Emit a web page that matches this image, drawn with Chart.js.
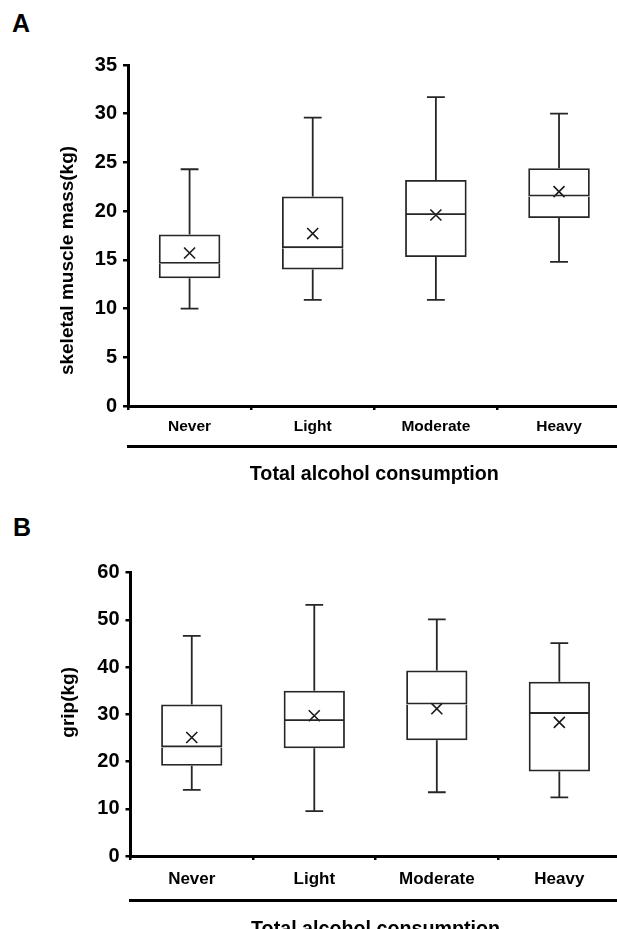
<!DOCTYPE html>
<html>
<head>
<meta charset="utf-8">
<script src="https://cdn.jsdelivr.net/npm/chart.js@4.4.1/dist/chart.umd.min.js"></script>
<style>
html,body{margin:0;padding:0;background:#fff;overflow:hidden;}
#wrap{position:relative;width:617px;height:929px;overflow:hidden;background:#fff;}
canvas{position:absolute;left:0;}
.lbl{position:absolute;font:bold 25px "Liberation Sans",Arial,sans-serif;line-height:25px;color:#000;}
</style>
</head>
<body>
<div id="wrap">
  <div class="lbl" style="left:12px;top:11px">A</div>
  <div class="lbl" style="left:13px;top:515px">B</div>
  <canvas id="cA" width="630" height="486" style="top:0px"></canvas>
  <canvas id="cB" width="630" height="441" style="top:500px"></canvas>
</div>
<script>
// ---------------- data ----------------
const categories = ['Never', 'Light', 'Moderate', 'Heavy'];
const xTitle = 'Total alcohol consumption';

// Panel A: skeletal muscle mass (kg)
const smmTitle  = 'skeletal muscle mass(kg)';
const smmTicks  = [0, 5, 10, 15, 20, 25, 30, 35];
const smmMin    = [10.0, 10.9, 10.9, 14.8];
const smmQ1     = [13.1, 14.0, 15.3, 19.3];
const smmMedian = [14.6, 16.2, 19.6, 21.5];
const smmQ3     = [17.6, 21.5, 23.2, 24.4];
const smmMax    = [24.3, 29.6, 31.7, 30.0];
const smmMean   = [15.7, 17.7, 19.6, 22.0];

// Panel B: grip (kg)
const gripTitle  = 'grip(kg)';
const gripTicks  = [0, 10, 20, 30, 40, 50, 60];
const gripMin    = [14.0, 9.5, 13.5, 12.4];
const gripQ1     = [19.1, 22.8, 24.5, 17.9];
const gripMedian = [23.0, 28.6, 32.1, 30.1];
const gripQ3     = [32.1, 35.0, 39.3, 36.9];
const gripMax    = [46.6, 53.2, 50.1, 45.1];
const gripMean   = [25.1, 29.7, 31.2, 28.3];

// ---------------- styling ----------------
const FONT = '"Liberation Sans", Arial, Helvetica, sans-serif';
const BOX_COLOR = '#262626';
const BOX_LW = 1.8;

function whiskerPlugin(mins, q1s, q3s, maxs) {
  return {
    id: 'whiskers',
    beforeDatasetsDraw(chart) {
      const ctx = chart.ctx, xs = chart.scales.x, ys = chart.scales.y;
      const catW = xs.getPixelForValue(1) - xs.getPixelForValue(0);
      const cap = catW * 0.145;
      ctx.save();
      ctx.strokeStyle = BOX_COLOR;
      ctx.lineWidth = BOX_LW;
      mins.forEach((_, i) => {
        const x = xs.getPixelForValue(i);
        const pMin = ys.getPixelForValue(mins[i]);
        const pQ1 = ys.getPixelForValue(q1s[i]);
        const pQ3 = ys.getPixelForValue(q3s[i]);
        const pMax = ys.getPixelForValue(maxs[i]);
        ctx.beginPath();
        ctx.moveTo(x, pMax); ctx.lineTo(x, pQ3);
        ctx.moveTo(x, pQ1); ctx.lineTo(x, pMin);
        ctx.moveTo(x - cap / 2, pMax); ctx.lineTo(x + cap / 2, pMax);
        ctx.moveTo(x - cap / 2, pMin); ctx.lineTo(x + cap / 2, pMin);
        ctx.stroke();
      });
      ctx.restore();
    }
  };
}

function yTitlePlugin(text, cx, dy, size) {
  return {
    id: 'ytitle',
    afterDraw(chart) {
      const ctx = chart.ctx, ca = chart.chartArea;
      ctx.save();
      ctx.translate(cx, (ca.top + ca.bottom) / 2 + dy);
      ctx.rotate(-Math.PI / 2);
      ctx.font = 'bold ' + size + 'px ' + FONT;
      ctx.fillStyle = '#000';
      ctx.textAlign = 'center';
      ctx.textBaseline = 'middle';
      ctx.fillText(text, 0, 0);
      ctx.restore();
    }
  };
}

function makeChart(id, d, L) {
  const lower = categories.map((c, i) => [d.q1[i], d.med[i]]);
  const upper = categories.map((c, i) => [d.med[i], d.q3[i]]);
  new Chart(document.getElementById(id), {
    type: 'bar',
    data: {
      labels: categories,
      datasets: [
        {
          data: lower, xAxisID: 'x', yAxisID: 'y', grouped: false,
          backgroundColor: 'rgba(255,255,255,0)', borderColor: BOX_COLOR,
          borderWidth: {left: BOX_LW, right: BOX_LW, bottom: BOX_LW, top: 0},
          borderSkipped: false, barPercentage: 0.5, categoryPercentage: 1
        },
        {
          data: upper, xAxisID: 'x', yAxisID: 'y', grouped: false,
          backgroundColor: 'rgba(255,255,255,0)', borderColor: BOX_COLOR,
          borderWidth: {left: BOX_LW, right: BOX_LW, bottom: BOX_LW, top: BOX_LW},
          borderSkipped: false, barPercentage: 0.5, categoryPercentage: 1
        },
        {
          type: 'line', data: d.mean, xAxisID: 'x', yAxisID: 'y',
          showLine: false, pointStyle: 'crossRot', pointRadius: 7.8,
          pointBorderWidth: 1.6, borderColor: '#1a1a1a', backgroundColor: 'rgba(0,0,0,0)'
        }
      ]
    },
    options: {
      responsive: false,
      animation: false,
      devicePixelRatio: 1,
      layout: {padding: {left: 0, right: 6, top: L.padTop, bottom: 0}},
      plugins: {legend: {display: false}, tooltip: {enabled: false}},
      scales: {
        y: {
          min: d.ticks[0], max: d.ticks[d.ticks.length - 1],
          afterBuildTicks: s => { s.ticks = d.ticks.map(v => ({value: v})); },
          afterFit: s => { s.width = L.yWidth; },
          grid: {display: true, drawOnChartArea: false, drawTicks: true, tickLength: 5, color: '#000', lineWidth: 2.5},
          border: {display: true, color: '#000', width: 3},
          ticks: {font: {family: FONT, size: 20, weight: 'bold'}, color: '#000', padding: 6}
        },
        x: {
          type: 'category', position: 'bottom', weight: 0, offset: true,
          afterFit: s => { s.height = L.xHeight; },
          grid: {display: true, offset: true, drawOnChartArea: false, drawTicks: true, tickLength: 4, color: '#000', lineWidth: 2.5},
          border: {display: true, color: '#000', width: 3},
          ticks: {font: {family: FONT, size: L.catSize, weight: 'bold'}, color: '#000', padding: L.catPad, maxRotation: 0}
        },
        x2: {
          type: 'category', position: 'bottom', weight: 1, offset: true,
          afterFit: s => { s.height = L.x2Height; },
          grid: {display: false},
          border: {display: true, color: '#000', width: 3},
          ticks: {display: false},
          title: {display: true, text: xTitle, color: '#000',
                  font: {family: FONT, size: 19.7, weight: 'bold'}, padding: {top: 0, bottom: 0}}
        }
      }
    },
    plugins: [whiskerPlugin(d.min, d.q1, d.q3, d.max), yTitlePlugin(d.title, L.titleX, L.titleDy, 19)]
  });
}

makeChart('cA',
  {title: smmTitle, ticks: smmTicks, min: smmMin, q1: smmQ1, med: smmMedian, q3: smmQ3, max: smmMax, mean: smmMean},
  {padTop: 65, yWidth: 128, xHeight: 40, x2Height: 40, catSize: 15.5, catPad: 7.7, titleX: 68, titleDy: 25});

makeChart('cB',
  {title: gripTitle, ticks: gripTicks, min: gripMin, q1: gripQ1, med: gripMedian, q3: gripQ3, max: gripMax, mean: gripMean},
  {padTop: 72.7, yWidth: 130.5, xHeight: 44.7, x2Height: 40.3, catSize: 17, catPad: 9.3, titleX: 69, titleDy: -12});
</script>
</body>
</html>
